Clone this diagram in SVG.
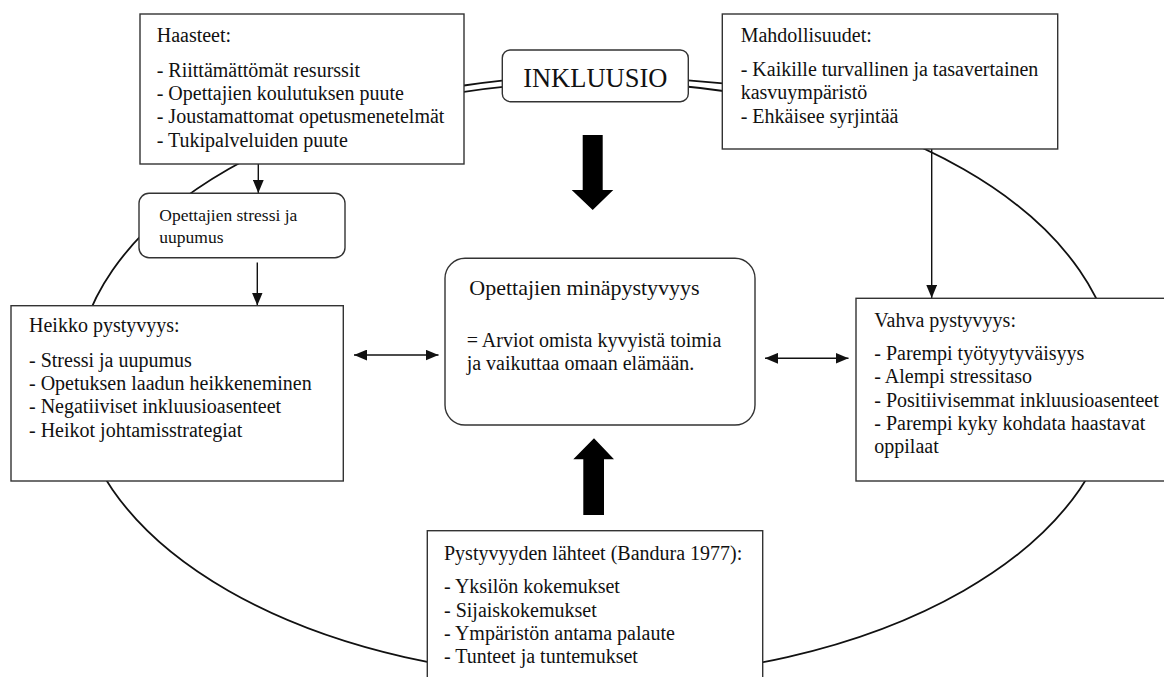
<svg xmlns="http://www.w3.org/2000/svg" width="1164" height="677" viewBox="0 0 1164 677">
  <defs>
    <style>
      .box { fill: #ffffff; stroke: #333333; stroke-width: 1.4; }
      .ln { fill: none; stroke: #111111; stroke-width: 1.4; }
      .cyc { fill: none; stroke: #111111; stroke-width: 1.8; }
      .t { font-family: "Liberation Serif", "Times New Roman", serif; font-size: 20px; fill: #111111; }
      .s { font-size: 17.5px; }
      .big { font-size: 22px; }
      .title { font-size: 26.5px; }
      .block { fill: #000000; stroke: none; }
    </style>
    <marker id="ah" viewBox="0 0 12 10" refX="12" refY="5" markerWidth="13" markerHeight="11" markerUnits="userSpaceOnUse" orient="auto-start-reverse">
      <path d="M0,0 L12,5 L0,10 Z" fill="#111111"/>
    </marker>
  </defs>
  <rect width="1164" height="677" fill="#ffffff"/>

  <!-- background cycle ellipse -->
  <g id="cycle">
    <ellipse class="cyc" cx="596" cy="380" rx="520" ry="298"/>
    <path class="cyc" d="M464,85.5 A520,298 0 0 1 502,80.6"/>
    <path class="cyc" d="M688,80.3 A520,298 0 0 1 723,83.4"/>
  </g>

  <!-- connectors -->
  <g id="connectors">
    <line class="ln" x1="258.3" y1="150" x2="258.3" y2="193" marker-end="url(#ah)"/>
    <line class="ln" x1="257.3" y1="262.5" x2="257.3" y2="305.5" marker-end="url(#ah)"/>
    <line class="ln" x1="931.7" y1="149" x2="931.7" y2="298" marker-end="url(#ah)"/>
    <line class="ln" x1="354" y1="355" x2="438.5" y2="355" marker-start="url(#ah)" marker-end="url(#ah)"/>
    <line class="ln" x1="765" y1="358.3" x2="848.5" y2="358.3" marker-start="url(#ah)" marker-end="url(#ah)"/>
    <path class="block" d="M582.7,135 L602.7,135 L602.7,190 L613.3,190 L592.7,210 L571.7,190 L582.7,190 Z"/>
    <path class="block" d="M583.3,515 L604,515 L604,459.3 L614,459.3 L594,438.3 L573.3,459.3 L583.3,459.3 Z"/>
  </g>

  <g id="haasteet">
    <rect class="box" x="140" y="14" width="324" height="150"/>
    <text class="t" x="156.7" y="41.7">Haasteet:</text>
    <text class="t" x="156.7" y="76.7">- Riittämättömät resurssit</text>
    <text class="t" x="156.7" y="100">- Opettajien koulutuksen puute</text>
    <text class="t" x="156.7" y="123.3">- Joustamattomat opetusmenetelmät</text>
    <text class="t" x="156.7" y="146.5">- Tukipalveluiden puute</text>
  </g>

  <g id="inkluusio">
    <rect class="box" x="502.3" y="50" width="186" height="51.7" rx="8" ry="8"/>
    <text class="t title" x="595.3" y="86.5" text-anchor="middle">INKLUUSIO</text>
  </g>

  <g id="mahdollisuudet">
    <rect class="box" x="722.3" y="14" width="335.4" height="135"/>
    <text class="t" x="740.7" y="41.7">Mahdollisuudet:</text>
    <text class="t" x="740.7" y="76">- Kaikille turvallinen ja tasavertainen</text>
    <text class="t" x="740.7" y="99.3">kasvuympäristö</text>
    <text class="t" x="740.7" y="122.7">- Ehkäisee syrjintää</text>
  </g>

  <g id="stressi">
    <rect class="box" x="139" y="193.3" width="206" height="64.4" rx="10" ry="10"/>
    <text class="t s" x="159.3" y="220.7">Opettajien stressi ja</text>
    <text class="t s" x="159.3" y="242.7">uupumus</text>
  </g>

  <g id="heikko">
    <rect class="box" x="11" y="305.7" width="332.3" height="175.3"/>
    <text class="t" x="29" y="331.7">Heikko pystyvyys:</text>
    <text class="t" x="29" y="366.7">- Stressi ja uupumus</text>
    <text class="t" x="29" y="390">- Opetuksen laadun heikkeneminen</text>
    <text class="t" x="29" y="413.3">- Negatiiviset inkluusioasenteet</text>
    <text class="t" x="29" y="436.5">- Heikot johtamisstrategiat</text>
  </g>

  <g id="minapystyvyys">
    <rect class="box" x="445" y="258.3" width="310" height="166.7" rx="20" ry="20"/>
    <text class="t big" x="469.3" y="295">Opettajien minäpystyvyys</text>
    <text class="t" x="466.7" y="346.7">= Arviot omista kyvyistä toimia</text>
    <text class="t" x="466.7" y="370">ja vaikuttaa omaan elämään.</text>
  </g>

  <g id="vahva">
    <rect class="box" x="856" y="298.3" width="312" height="182.7"/>
    <text class="t" x="874.3" y="326.7">Vahva pystyvyys:</text>
    <text class="t" x="874.3" y="360">- Parempi työtyytyväisyys</text>
    <text class="t" x="874.3" y="383.3">- Alempi stressitaso</text>
    <text class="t" x="874.3" y="406.7">- Positiivisemmat inkluusioasenteet</text>
    <text class="t" x="874.3" y="430">- Parempi kyky kohdata haastavat</text>
    <text class="t" x="874.3" y="453.3">oppilaat</text>
  </g>

  <g id="lahteet">
    <rect class="box" x="427.3" y="530.7" width="335.4" height="160"/>
    <text class="t" x="444" y="560">Pystyvyyden lähteet (Bandura 1977):</text>
    <text class="t" x="444" y="593.3">- Yksilön kokemukset</text>
    <text class="t" x="444" y="616.7">- Sijaiskokemukset</text>
    <text class="t" x="444" y="640">- Ympäristön antama palaute</text>
    <text class="t" x="444" y="663.3">- Tunteet ja tuntemukset</text>
  </g>
</svg>
